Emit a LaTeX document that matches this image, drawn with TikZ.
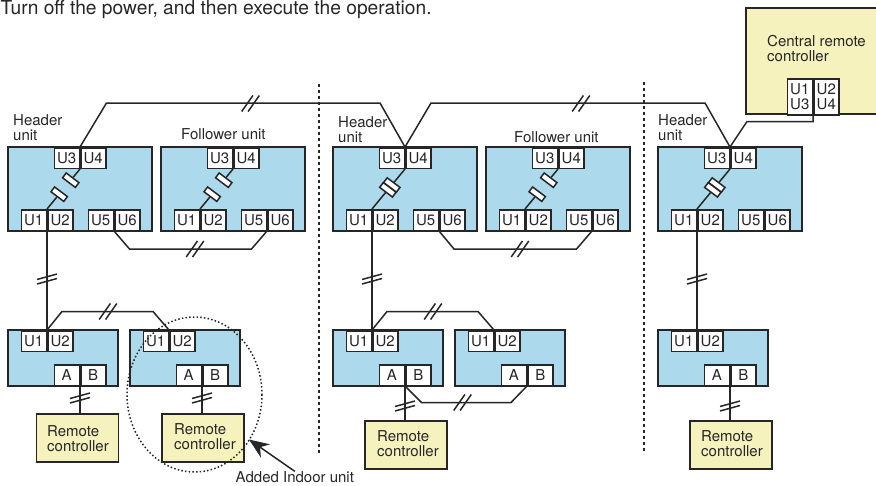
\documentclass[tikz,border=0pt]{standalone}
\usepackage{fontspec}
\setmainfont{TeX Gyre Heros}
\usetikzlibrary{arrows.meta}
\definecolor{unitblue}{HTML}{ADD9EC}
\definecolor{ctrlyellow}{HTML}{F5F2BE}
\colorlet{inkgrey}{black!85}
\tikzset{
	txt/.style={inner sep=0pt,text=inkgrey,align=left,anchor=west,font=\fontsize{15}{15}\selectfont},
	unitbox/.style={draw=inkgrey,line width=1.5pt,fill=unitblue,inner sep=0pt,minimum height=84pt,minimum width=144pt},
	idubox/.style={unitbox,minimum height=56pt,minimum width=110pt},
	ctrlbox/.style={draw=inkgrey,line width=1.5pt,fill=ctrlyellow,inner sep=0pt,minimum height=48pt,minimum width=82pt},
	term/.style={draw=inkgrey,line width=1.5pt,fill=white,inner sep=0pt,text=inkgrey,minimum width=25pt,minimum height=20.5pt,font=\fontsize{15}{15}\selectfont},
	wire/.style={draw=inkgrey,line width=1.5pt},
	swbar/.style={draw=inkgrey,line width=1.5pt,fill=white,inner sep=0pt,minimum width=16pt,minimum height=6pt,rotate=-37},
	sep/.style={draw=inkgrey,line width=1.6pt,dash pattern=on 3pt off 3pt},
	cuth/.pic={\draw[wire] (-8.8,8) -- (2.4,-8) (-2.4,8) -- (8.8,-8);},
	cutv/.pic={\draw[wire] (-10,0.5) -- (10,-5) (-10,5) -- (10,-0.5);}
}
\begin{document}
\begin{tikzpicture}[x=1pt,y=-1pt]
	\useasboundingbox (0,0) rectangle (876,485);
	\node[txt,anchor=base west,font=\fontsize{19.2}{20}\selectfont] (note) at (0.5,14.5) {Turn off the power, and then execute the operation.};

	% outdoor units
	\foreach \n/\x in {h1/8,f1/161,h2/333,f2/486,h3/658}{
		\node[unitbox] (\n) at ({\x+72},189) {};
		\node[term,anchor=north east] (\n-u3) at ({\x+72},147) {U3};
		\node[term,anchor=north west] (\n-u4) at ({\x+72},147) {U4};
		\node[term,anchor=south east] (\n-u1) at ({\x+39},231) {U1};
		\node[term,anchor=south west] (\n-u2) at ({\x+39},231) {U2};
		\node[term,anchor=south east] (\n-u5) at ({\x+106},231) {U5};
		\node[term,anchor=south west] (\n-u6) at ({\x+106},231) {U6};
	}
	% indoor units
	\foreach \n/\x in {i1/8,i2/130,i3/333,i4/455,i5/658}{
		\node[idubox] (\n) at ({\x+55},358) {};
		\node[term,anchor=north east] (\n-u1) at ({\x+39},330) {U1};
		\node[term,anchor=north west] (\n-u2) at ({\x+39},330) {U2};
		\node[term,anchor=south east] (\n-a) at ({\x+72},386) {A};
		\node[term,anchor=south west] (\n-b) at ({\x+72},386) {B};
	}

	% short pins, open
	\foreach \n in {h1,f1,f2}{
		\path (\n-u3.south east) -- node[swbar,pos=.28] (\n-sa) {} node[swbar,pos=.63] (\n-sb) {} (\n-u1.north east);
		\draw[wire] (\n-u3.south east) -- (\n-sa);
		\draw[wire] (\n-sb) -- (\n-u1.north east);
	}
	% short pins, closed
	\foreach \n in {h2,h3}{
		\draw[wire] (\n-u3.south east) -- (\n-u1.north east);
		\path (\n-u3.south east) -- node[swbar,pos=.40] (\n-sa) {} node[swbar,pos=.52] (\n-sb) {} (\n-u1.north east);
	}

	% central remote controller
	\fill[ctrlyellow] (746,8) rectangle (876,114);
	\draw[wire] (876,8) -- (746,8) -- (746,114) -- (876,114);
	\node[txt] (central) at (767,49) {Central remote\\controller};
	\node[term,anchor=north east,minimum height=36pt,align=center] (c-l) at (813,78) {U1\\U3};
	\node[term,anchor=north west,minimum height=36pt,align=center] (c-r) at (813,78) {U2\\U4};

	% remote controllers
	\node[ctrlbox] (rc1) at (77.5,438) {};
	\node[ctrlbox] (rc2) at (203,438) {};
	\node[ctrlbox] (rc3) at (406,445) {};
	\node[ctrlbox] (rc4) at (731,445) {};
	\node[txt] at (47,439) {Remote\\controller};
	\node[txt] at (174,436.5) {Remote\\controller};
	\node[txt] at (377,443.5) {Remote\\controller};
	\node[txt] at (701,443.5) {Remote\\controller};

	% names
	\node[txt] (hd1) at (13,128) {Header\\unit};
	\node[txt] (hd2) at (338,130) {Header\\unit};
	\node[txt] (hd3) at (658,128) {Header\\unit};
	\node[txt,anchor=base west] (fl1) at (181,139) {Follower unit};
	\node[txt,anchor=base west] (fl2) at (514,142.5) {Follower unit};

	% wiring
	\draw[wire] (h1-u3.north east) -- (106.5,103) -- (380,103) -- (h2-u3.north east);
	\draw[wire] (h2-u3.north east) -- (431,103) -- (705,103) -- (h3-u3.north east);
	\draw[wire] (h3-u3.north east) -- (747,121.5) -- (813,121.5) -- (c-l.south east);
	\draw[wire] (h1-u5.south east) -- (129.5,249) -- (251.5,249) -- (f1-u5.south east);
	\draw[wire] (h2-u5.south east) -- (454,249) -- (576.5,249) -- (f2-u5.south east);
	\draw[wire] (h1-u1.south east) -- (i1-u1.north east);
	\draw[wire] (h2-u1.south east) -- (i3-u1.north east);
	\draw[wire] (h3-u1.south east) -- (i5-u1.north east);
	\draw[wire] (i1-u1.north east) -- (62,311.5) -- (153,311.5) -- (i2-u1.north east);
	\draw[wire] (i3-u1.north east) -- (387,311.5) -- (478,311.5) -- (i4-u1.north east);
	\draw[wire] (i3-a.south east) -- (421.5,402.5) -- (511,402.5) -- (i4-a.south east);
	\draw[wire] (i1-a.south east) -- (i1-a.south east |- rc1.north);
	\draw[wire] (i2-a.south east) -- (i2-a.south east |- rc2.north);
	\draw[wire] (i3-a.south east) -- (i3-a.south east |- rc3.north);
	\draw[wire] (i5-a.south east) -- (i5-a.south east |- rc4.north);

	% double cuts
	\foreach \p in {(250.5,103.5),(581,103.5),(195,249),(520,249),(108,311.5),(433,311.5),(462.5,402.5)}
		\pic at \p {cuth};
	\foreach \p in {(47,279),(372,279),(697,279),(80,398),(202,398),(405,406),(730,406)}
		\pic at \p {cutv};

	% dividing lines
	\coordinate (sep1a) at (319,84);
	\coordinate (sep1b) at (319,454);
	\coordinate (sep2a) at (644,82);
	\coordinate (sep2b) at (644,454);
	\draw[sep] (sep1a) -- (sep1b);
	\draw[sep] (sep2a) -- (sep2b);

	% added unit
	\draw[inkgrey,line width=1.5pt,dash pattern=on 1.5pt off 2.2pt] (194.5,394.5) ellipse (67.5 and 77.5);
	\node[txt,anchor=base west] (added) at (235.5,482.5) {Added Indoor unit};
	\coordinate (addtip) at (249,439.5);
	\draw[wire,-{Stealth[length=20pt,width=16pt]}] (added.north) -- (addtip);
\end{tikzpicture}
\end{document}
